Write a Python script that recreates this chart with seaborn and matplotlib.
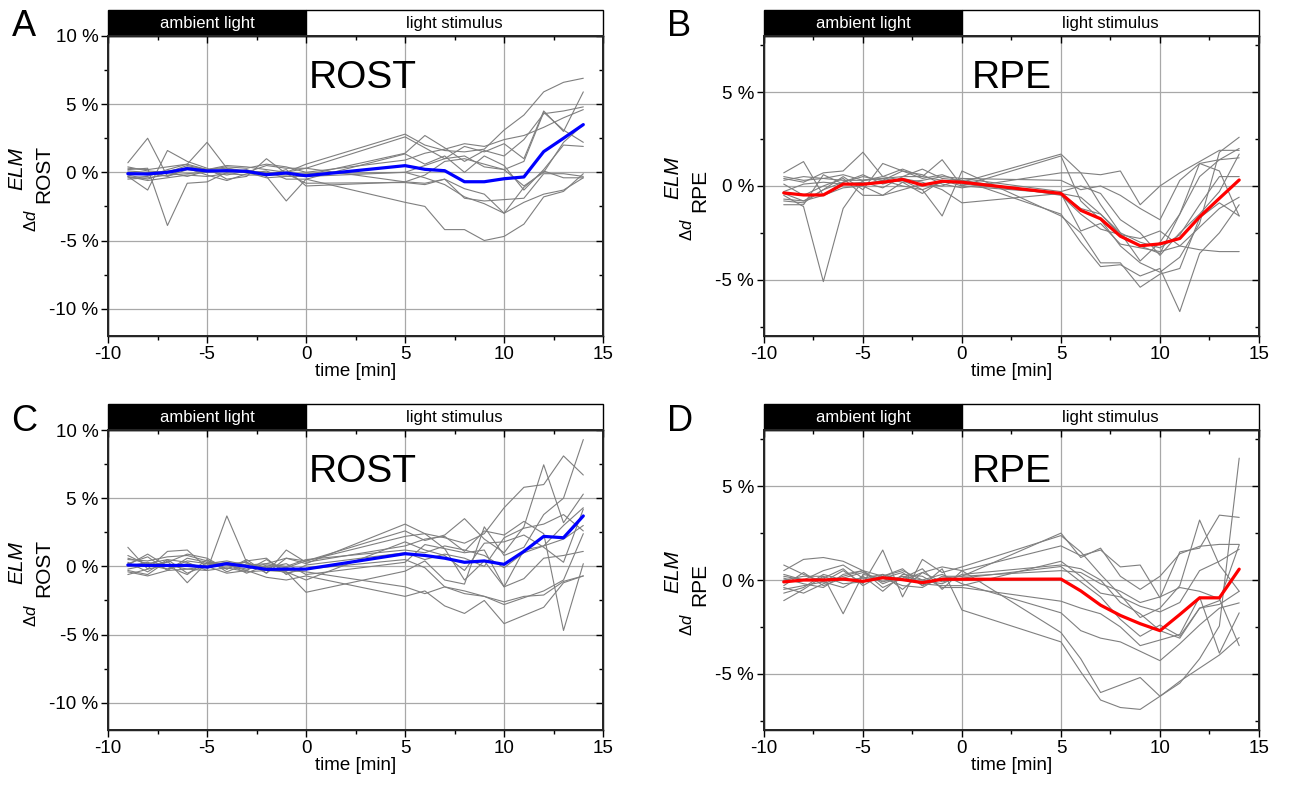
import numpy as np
import pandas as pd
import matplotlib.pyplot as plt
import seaborn as sns
from matplotlib.patches import Rectangle

# tiempos de medida (min): 10 antes del estimulo, 10 durante
tiempo = [-9, -8, -7, -6, -5, -4, -3, -2, -1, 0, 5, 6, 7, 8, 9, 10, 11, 12, 13, 14]

# Panel A - ROST
media_a = [-0.1, -0.12, 0.0, 0.27, 0.1, 0.12, 0.07, -0.17, -0.05, -0.25,
           0.49, 0.22, 0.12, -0.69, -0.69, -0.47, -0.34, 1.52, 2.5, 3.5]
ind_a = [
    [0.3, 0.2, 0.4, 0.6, 0.2, 0.3, 0.1, -0.2, 0.0, 0.6, 2.8, 2.0, 1.6, 1.5, 1.7, 3.1, 4.2, 5.9, 6.6, 6.9],
    [0.7, 2.5, -0.3, 0.4, 0.2, 0.5, 0.4, 0.2, 0.0, 0.3, 2.6, 1.8, 1.0, 1.9, 1.5, 2.1, 1.0, 4.5, 3.0, 5.9],
    [-0.3, -1.3, 1.6, 0.8, 0.3, -0.5, -0.3, 1.0, -0.1, -0.2, 1.4, 2.7, 1.8, 0.8, 1.6, 1.2, 2.4, 4.3, 4.5, 4.8],
    [0.2, 0.3, -3.9, -0.8, -0.7, 0.0, 0.2, -0.3, -2.1, -0.5, 1.35, 0.6, 1.2, 0.0, 1.2, 0.5, -1.3, 0.2, 2.0, 1.9],
    [-0.4, -0.3, 0.2, 0.6, 2.2, 0.3, 0.0, -0.2, 0.2, -1.0, -0.7, -0.2, 0.8, 1.0, 0.6, 0.2, 0.8, 4.4, 3.1, 2.2],
    [0.0, -0.2, 0.1, 0.3, -0.2, -0.6, -0.1, 0.1, -0.5, -0.5, -2.2, -2.5, -4.2, -4.2, -5.0, -4.7, -3.8, -1.8, -1.4, -0.1],
    [-0.5, -0.4, -0.2, -0.1, 0.0, 0.1, 0.0, -0.4, -0.3, -0.3, 0.0, 0.5, 1.0, 1.2, 0.4, 0.2, -1.0, 0.0, 2.2, 3.5],
    [0.1, 0.0, -0.3, 0.2, 0.0, 0.2, 0.0, 0.5, 0.3, 0.3, -0.7, -0.8, -0.5, -1.2, -1.6, -3.0, -2.2, -1.6, -1.3, -0.4],
    [-0.2, -0.5, 0.0, -0.3, 0.1, -0.2, 0.1, 0.0, -0.1, -0.8, -0.75, -0.9, -0.5, -1.9, -2.1, -2.0, -1.9, -0.1, -0.1, -0.3],
    [0.4, 0.1, 0.0, 0.5, 0.2, 0.4, 0.3, 0.6, 0.4, 0.0, 0.9, 1.4, 1.7, 2.1, 1.9, 2.4, 2.7, 3.3, 4.0, 4.6],
    [-0.3, -0.6, -0.4, -0.2, -0.3, -0.1, -0.2, -0.2, -0.2, -0.1, 0.0, -0.4, -0.9, -1.8, -2.3, -3.0, -1.1, 0.1, -0.4, -0.4],
]

# Panel B - RPE
media_b = [-0.37, -0.48, -0.48, 0.1, 0.09, 0.2, 0.35, 0.05, 0.25, 0.2,
           -0.4, -1.3, -1.75, -2.68, -3.19, -3.09, -2.8, -1.65, -0.66, 0.32]
ind_b = [
    [0.7, 1.3, -0.5, 0.2, 0.5, 0.3, 0.8, 0.4, 0.6, 0.2, 1.7, 0.7, -1.0, -2.5, -4.0, -3.0, -1.5, 1.2, 1.4, 2.0],
    [0.4, 0.2, 0.7, 0.8, 1.8, 0.5, 0.9, 0.5, 1.4, 0.0, 1.6, -0.8, -1.8, -3.2, -4.1, -4.6, -3.8, -2.0, 1.8, 2.6],
    [-0.5, -1.1, -5.1, -1.2, 0.3, 0.5, 0.3, -0.2, -1.6, 0.8, -1.6, -2.5, -4.1, -4.1, -5.4, -4.7, -4.4, -1.7, -0.9, -1.6],
    [-0.8, -0.9, -0.2, 0.5, -0.2, 1.2, 0.8, 0.6, 0.1, -0.1, 0.7, 0.7, 0.6, 0.8, -1.0, 0.0, 0.7, 1.3, 1.9, 1.9],
    [0.3, 0.5, 0.4, 0.6, 0.3, 0.4, 0.2, 0.3, 0.5, 0.4, 0.3, -0.2, 0.0, -0.5, -1.2, -1.8, 0.3, 1.2, 0.8, -1.6],
    [-0.4, -0.8, -0.5, -0.1, 0.0, -0.5, 0.2, -0.4, 0.3, 0.0, -0.4, -2.4, -2.0, -3.1, -3.3, -3.5, -3.2, -3.4, -3.5, -3.5],
    [-1.0, -1.0, 0.6, 0.1, 0.2, -0.1, 0.5, 0.9, 0.4, 0.3, -1.5, -3.0, -4.3, -4.2, -4.8, -4.4, -6.7, -3.6, -2.5, -1.0],
    [-0.7, -0.8, -0.2, 0.2, 0.6, 0.1, 0.4, 0.2, -0.2, -0.9, -0.4, -1.2, -1.5, -2.5, -3.0, -3.3, -2.6, -1.0, 0.5, 0.5],
    [0.1, -0.5, 0.0, 0.4, -0.5, -0.5, -0.2, 0.1, 0.0, 0.4, -0.3, 0.0, -0.4, -1.8, -2.5, -3.7, -2.5, -1.5, -0.3, 1.7],
    [-0.3, 0.1, 0.2, 0.1, 0.1, 0.3, 0.0, -0.2, 0.2, 0.3, -0.5, -1.5, -2.3, -2.6, -2.8, -2.4, -3.2, -2.2, -1.2, -0.6],
    [0.5, 0.3, 0.4, 0.3, 0.3, 0.4, 0.5, 0.5, 0.3, 0.1, -0.4, -0.6, -1.5, -2.6, -3.2, -3.6, -1.5, 0.5, 1.4, 1.5],
]

# Panel C - ROST
media_c = [0.1, 0.07, 0.07, 0.07, -0.05, 0.2, 0.0, -0.22, -0.2, -0.2,
           0.93, 0.8, 0.6, 0.3, 0.4, 0.15, 1.1, 2.2, 2.1, 3.7]
ind_c = [
    [0.6, 0.2, 0.5, 0.3, -0.3, 3.7, 0.3, -0.5, 0.6, 0.2, 3.1, 2.4, 2.1, 1.7, 2.4, 4.3, 5.8, 6.0, 8.1, 6.7],
    [1.4, -0.2, 1.1, 1.2, -0.1, 0.2, -0.5, 0.1, -0.1, 0.4, 2.6, 1.9, 2.3, 3.5, 2.0, 1.0, 2.9, 7.45, 3.2, 5.3],
    [-0.3, -0.6, 0.4, -1.2, 0.3, 0.1, -0.3, 0.5, -0.4, -1.9, -0.35, 0.4, -1.0, -1.3, 2.9, 0.8, 1.4, 3.8, 5.0, 9.3],
    [0.2, 0.7, -0.3, 0.6, 0.3, -0.2, 0.5, -0.5, 1.2, 0.3, 1.5, 2.0, 2.2, 1.1, 2.6, 2.3, 3.3, 2.4, -4.7, 0.2],
    [-0.6, -0.2, 0.1, -0.2, 0.0, -0.5, -0.3, -0.8, -1.0, -0.7, -2.2, -1.8, -2.9, -3.45, -2.5, -4.2, -3.6, -3.0, -1.2, -0.7],
    [0.0, 0.3, -0.2, 0.4, 0.2, 0.4, 0.1, 0.2, 0.0, 0.5, 1.2, 1.0, 1.5, 1.2, 0.8, -0.1, 1.0, 1.5, 3.0, 4.3],
    [0.3, -0.4, 0.5, -0.5, 0.1, 0.3, 0.0, 0.0, -0.5, -0.2, 0.5, -0.1, -1.5, -2.0, -2.2, -2.8, -2.3, -1.8, -1.0, 2.4],
    [-0.2, 0.1, -0.2, 0.2, -0.1, 0.2, 0.3, -0.3, -0.4, -1.0, 1.8, 1.2, 0.8, -0.3, 1.7, 1.8, 2.3, 1.4, 0.3, 4.2],
    [0.5, 0.4, 0.7, 0.8, 0.4, 0.1, -0.2, 0.2, 0.6, 0.4, 2.2, 2.4, 1.3, -1.0, 0.4, -1.5, -0.9, 0.6, 0.8, 1.1],
    [-0.4, -0.7, -0.3, -0.2, -0.3, -0.1, -0.4, -0.3, -0.3, -0.4, -1.5, -2.0, -1.5, -1.8, -2.2, -2.6, -2.2, -2.1, -1.1, -0.7],
    [0.8, 0.1, 0.3, 0.9, 0.6, -0.2, 0.4, 0.6, -0.6, 0.1, 1.0, 0.5, 0.9, 0.6, 0.0, 2.1, 2.8, 3.1, 3.8, 2.6],
    [0.1, 0.9, 0.0, -0.6, 0.5, -0.4, 0.2, -0.1, 0.2, -0.6, 0.3, 1.6, 1.3, 1.0, 1.2, -1.5, 1.2, 1.5, 2.0, 3.0],
]

# Panel D - RPE
media_d = [-0.1, 0.0, 0.0, 0.05, -0.07, 0.12, 0.02, -0.14, 0.04, 0.04,
           0.05, -0.58, -1.34, -1.89, -2.33, -2.7, -1.84, -0.95, -0.95, 0.58]
ind_d = [
    [0.5, 1.1, 1.2, 1.0, 0.5, 0.2, 0.6, -0.3, 0.1, 0.2, 2.5, 1.2, 1.7, 0.2, -0.5, 0.2, 1.4, 1.8, 1.9, 1.9],
    [0.8, 0.3, -0.1, 0.5, -0.2, 1.6, -0.9, 1.1, 0.4, 0.7, 2.37, 1.5, 0.3, -0.8, -2.0, -1.5, -0.3, 3.2, 0.8, -0.6],
    [-1.1, -0.5, 0.2, -1.8, 0.3, 0.1, 0.4, -0.3, 0.6, -1.6, -3.3, -4.9, -6.4, -6.8, -6.9, -6.2, -5.4, -4.7, -4.0, -3.07],
    [-0.4, -0.7, -0.2, 0.2, 0.5, -0.4, 0.1, 0.6, -0.5, 0.5, -2.8, -4.2, -6.0, -5.6, -5.2, -6.2, -5.5, -4.2, -2.45, 6.5],
    [0.2, 0.0, 0.5, 0.8, 0.1, 0.3, -0.5, 0.4, 0.7, 0.5, 1.82, 1.3, 1.6, 0.7, 0.8, -0.95, 1.5, 1.7, 3.46, 3.34],
    [-0.3, 0.4, -0.3, 0.1, 0.4, -0.1, 0.2, -0.2, -0.3, -0.3, 1.0, 0.2, -0.7, -0.9, -1.4, -1.7, -1.2, 0.5, 1.0, 1.64],
    [0.3, 0.0, 0.1, 0.6, -0.3, 0.3, 0.0, 0.4, -0.1, 0.1, 0.72, -0.1, -0.9, -2.1, -3.0, -2.4, -3.0, -1.5, -1.3, -0.6],
    [-0.5, -0.3, -0.1, -0.4, 0.2, -0.6, 0.3, 0.2, -0.4, -0.4, -1.13, -1.5, -1.8, -2.5, -3.5, -3.2, -2.9, -0.9, -3.9, -1.75],
    [0.0, 0.2, 0.2, -0.2, -0.1, 0.2, 0.5, 0.0, 0.3, -0.2, -1.75, -2.7, -3.1, -3.3, -3.8, -4.3, -3.4, -2.4, -1.5, -1.22],
    [-0.7, -0.4, 0.3, 0.0, 0.1, 0.1, -0.3, -0.4, 0.2, 0.2, 0.5, 0.4, -0.2, -0.6, -1.2, -0.9, -0.4, -0.6, -1.0, -3.5],
    [0.1, -0.2, -0.4, 0.3, 0.5, -0.2, 0.2, 0.0, -0.2, 0.3, 0.8, 0.6, 0.0, -1.2, -1.8, -2.7, -3.1, -1.5, -1.1, 1.87],
]

sns.set_theme(style="white")
plt.rcParams['font.family'] = ['Liberation Sans', 'DejaVu Sans']
plt.rcParams['mathtext.fontset'] = 'custom'
plt.rcParams['mathtext.rm'] = 'Liberation Sans'
plt.rcParams['mathtext.it'] = 'Liberation Sans:italic'
plt.rcParams['axes.unicode_minus'] = False
for k in ['text.color', 'axes.labelcolor', 'xtick.color', 'ytick.color']:
    plt.rcParams[k] = 'black'

fig = plt.figure(figsize=(12.97, 7.87), dpi=100)

# letra, nombre, datos, color, limites y, tick max, posicion, y del titulo, ajuste de la etiqueta
paneles = [
    ("A", "ROST", ind_a, media_a, "#0000ff", (-12, 10), 10, (0.0833, 0.5731), 6.9, 0.0),
    ("B", "RPE", ind_b, media_b, "#ff0000", (-8, 8), 5, (0.589, 0.5731), 5.75, -0.03),
    ("C", "ROST", ind_c, media_c, "#0000ff", (-12, 10), 10, (0.0833, 0.0724), 6.9, 0.0),
    ("D", "RPE", ind_d, media_d, "#ff0000", (-8, 8), 5, (0.589, 0.0724), 5.75, -0.03),
]
xmaj = [-10, -5, 0, 5, 10, 15]
xmin = [-7.5, -2.5, 2.5, 7.5, 12.5]
ymin = [-7.5, -2.5, 2.5, 7.5]

for letra, nombre, ind, media, color, ylim, ymax_tick, pos, ytxt, dy in paneles:
    ax = fig.add_axes([pos[0], pos[1], 0.3817, 0.3812])

    filas = []
    for i, serie in enumerate(ind):
        for t, v in zip(tiempo, serie):
            filas.append({"id": i, "t": t, "v": v})
    df = pd.DataFrame(filas)
    df_media = pd.DataFrame({"t": tiempo, "v": media})

    ax.grid(True, color="#a8a8a8", lw=0.9)
    ax.set_axisbelow(True)
    sns.lineplot(data=df, x="t", y="v", units="id", estimator=None,
                 color="#7f7f7f", lw=0.8, ax=ax, legend=False)
    sns.lineplot(data=df_media, x="t", y="v", color=color, lw=2.3, ax=ax)

    ax.set_xlim(-10, 15)
    ax.set_ylim(*ylim)
    ax.set_xticks(xmaj)
    ax.set_xticks(xmin, minor=True)
    yt = np.arange(-ymax_tick, ymax_tick + 1, 5)
    ax.set_yticks(yt)
    ax.set_yticklabels([f"{int(v)} %" for v in yt])
    ax.set_yticks(ymin, minor=True)
    ax.tick_params(axis="both", which="major", direction="out", length=5,
                   width=1, labelsize=13.5, left=True, bottom=True, color="black", pad=2)
    ax.tick_params(axis="both", which="minor", direction="out", length=3,
                   width=1, left=True, bottom=True, color="black")
    for s in ax.spines.values():
        s.set_color("black")
        s.set_linewidth(1.0)

    # ticks hacia dentro en el lado derecho y arriba
    der = ax.twinx()
    der.set_ylim(*ylim)
    der.set_yticks(yt)
    der.set_yticks(ymin, minor=True)
    der.tick_params(which="both", direction="in", right=True, labelright=False,
                    color="black", width=1)
    der.tick_params(which="major", length=5)
    der.tick_params(which="minor", length=3)
    der.grid(False)
    arr = ax.twiny()
    arr.set_xlim(-10, 15)
    arr.set_xticks(xmaj)
    arr.set_xticks(xmin, minor=True)
    arr.tick_params(which="both", direction="in", top=True, labeltop=False,
                    color="black", width=1)
    arr.tick_params(which="major", length=5)
    arr.tick_params(which="minor", length=3)
    arr.grid(False)

    ax.set_xlabel("time [min]", fontsize=13.5, labelpad=0)
    ax.set_ylabel("")

    # etiqueta y: delta d con ELM arriba y nombre abajo
    ax.text(-0.156, 0.383 + dy, r"$\Delta d$", transform=ax.transAxes, rotation=90,
            ha="center", va="center", fontsize=12)
    ax.text(-0.184, 0.487 + dy, "ELM", transform=ax.transAxes, rotation=90,
            ha="center", va="bottom", fontsize=15, style="italic")
    ax.text(-0.130, 0.443 + dy, nombre, transform=ax.transAxes, rotation=90,
            ha="center", va="bottom", fontsize=15)

    # barra de condicion arriba
    ax.add_patch(Rectangle((0, 1.0), 0.4, 0.087, transform=ax.transAxes,
                           facecolor="black", edgecolor="black", lw=1, clip_on=False, zorder=5))
    ax.add_patch(Rectangle((0.4, 1.0), 0.6, 0.087, transform=ax.transAxes,
                           facecolor="white", edgecolor="black", lw=1, clip_on=False, zorder=5))
    ax.text(0.2, 1.043, "ambient light", transform=ax.transAxes, color="white",
            ha="center", va="center", fontsize=12, zorder=6)
    ax.text(0.7, 1.043, "light stimulus", transform=ax.transAxes, color="black",
            ha="center", va="center", fontsize=12, zorder=6)

    xtit = 2.85 if nombre == "ROST" else 2.5
    ax.text(xtit, ytxt, nombre, ha="center", va="center", fontsize=28, color="black")
    ax.text(-0.195, 1.03, letra, transform=ax.transAxes, ha="left", va="center", fontsize=26)

fig.savefig("out.png", dpi=100)
